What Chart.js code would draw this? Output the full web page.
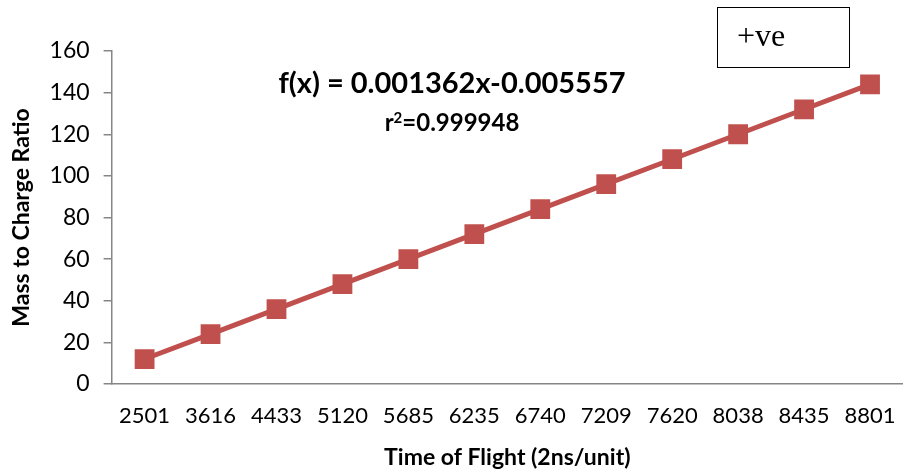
<!DOCTYPE html>
<html>
<head>
<meta charset="utf-8">
<script src="https://cdn.jsdelivr.net/npm/chart.js@4.4.0/dist/chart.umd.min.js"></script>
<style>
    html, body { margin: 0; padding: 0; background: #fff; }
    #contenedor { position: relative; width: 903px; height: 475px; }
    #caja {
        position: absolute; left: 717px; top: 7px; width: 133px; height: 61px;
        border: 1.5px solid #000; box-sizing: border-box;
        font-family: 'Liberation Serif', 'Times New Roman', serif; font-size: 32px; line-height: 32px;
        padding: 11px 0 0 19px;
    }
    #ecuacion {
        position: absolute; left: 252px; top: 64px; width: 400px; text-align: center;
        font-family: Lato, 'Open Sans', sans-serif; font-weight: bold; font-size: 29px; line-height: normal;
    }
    #r2 {
        position: absolute; left: 252px; top: 107px; width: 400px; text-align: center;
        font-family: Lato, 'Open Sans', sans-serif; font-weight: bold; font-size: 24px; line-height: normal;
    }
    #r2 sup { font-size: 15px; vertical-align: 8px; }
</style>
</head>
<body>
<div id="contenedor">
    <canvas id="graficoMasa" width="903" height="475"></canvas>
    <div id="caja">+ve</div>
    <div id="ecuacion">f(x) = 0.001362x-0.005557</div>
    <div id="r2">r<sup>2</sup>=0.999948</div>
</div>
<script>
// ===================================== Datos ===================================
const tiempos = ['2501', '3616', '4433', '5120', '5685', '6235', '6740', '7209', '7620', '8038', '8435', '8801'];
const masaCarga = [12, 24, 36, 48, 60, 72, 84, 96, 108, 120, 132, 144];
const ticksY = [0, 20, 40, 60, 80, 100, 120, 140, 160];

const fuente = "Lato, 'Open Sans', sans-serif";
const gris = '#868686';
const rojo = '#C0504D';

// ===================================== Grafico ===================================
new Chart(document.getElementById('graficoMasa'), {
    type: 'line',
    data: {
        labels: tiempos,
        datasets: [{
            data: masaCarga,
            borderColor: rojo,
            backgroundColor: rojo,
            borderWidth: 5,
            pointStyle: 'rect',
            pointRadius: 14,
            pointHoverRadius: 14,
            pointBorderWidth: 0,
            tension: 0
        }]
    },
    options: {
        responsive: false,
        animation: false,
        // el grafico original llega hasta el borde derecho
        layout: { autoPadding: false, padding: { top: 51, right: 0, left: 4, bottom: 0 } },
        plugins: { legend: { display: false }, tooltip: { enabled: false } },
        scales: {
            x: {
                offset: true,
                afterFit: (eje) => { eje.paddingRight = 0; eje.paddingLeft = 0; },
                grid: { display: false },
                border: { color: gris, width: 1.5 },
                ticks: { color: '#000', font: { family: fuente, size: 22 }, padding: 11, maxRotation: 0 },
                title: { display: true, text: 'Time of Flight (2ns/unit)', color: '#000', font: { family: fuente, size: 23, weight: 'bold' }, padding: { top: 3, bottom: 4 } }
            },
            y: {
                min: 0,
                max: 160,
                afterBuildTicks: (eje) => { eje.ticks = ticksY.map(v => ({ value: v })); },
                grid: { drawOnChartArea: false, color: gris, tickLength: 8, lineWidth: 1.5 },
                border: { color: gris, width: 1.5 },
                ticks: { color: '#000', font: { family: fuente, size: 23 }, padding: 14 },
                title: { display: true, text: 'Mass to Charge Ratio', color: '#000', font: { family: fuente, size: 23, weight: 'bold' }, padding: { top: 4, bottom: 0 } }
            }
        }
    }
});
</script>
</body>
</html>
